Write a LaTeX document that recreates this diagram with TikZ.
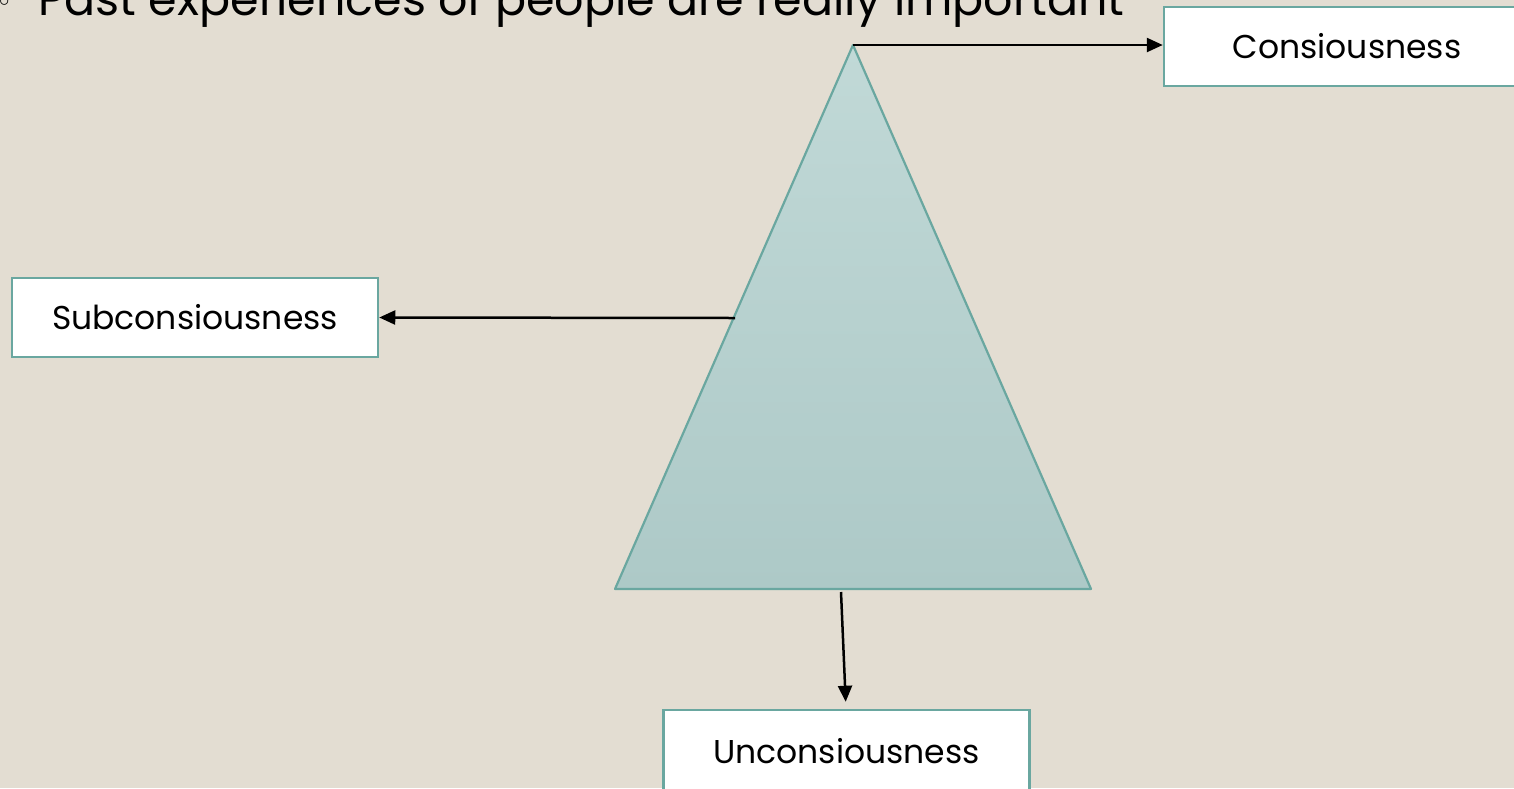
\documentclass[tikz,border=0pt]{standalone}
\usepackage{fontspec}
\setmainfont{Poppins}
\usetikzlibrary{arrows.meta}
\definecolor{bg}{HTML}{E3DDD2}
\definecolor{teal}{HTML}{6AA7A0}
\definecolor{tritop}{HTML}{C1D9D7}
\definecolor{tribot}{HTML}{ADC9C7}
\tikzset{
  label box/.style={draw=teal, line width=2.5pt, fill=white, minimum width=366pt, minimum height=79pt, inner sep=0pt, font=\fontsize{33}{36}\selectfont},
  conn/.style={line width=2.5pt, -{Triangle[length=16pt,width=14pt]}},
}
\begin{document}
\begin{tikzpicture}[x=1pt,y=-1pt]
\useasboundingbox (0,0) rectangle (1514,788);
\clip (0,0) rectangle (1514,788);
\fill[bg] (0,0) rectangle (1514,788);
% title line (clipped at top, as in the reference)
\node[anchor=base west, inner sep=0pt] (bullet) at (-1,6) {\fontsize{22}{22}\selectfont$\circ$};
\node[anchor=base west, inner sep=0pt, font=\fontsize{46}{50}\selectfont] (title) at (38,15) {Past experiences of people are really important};
% triangle
\coordinate (apex) at (853,45);
\coordinate (bl) at (615,589);
\coordinate (br) at (1091,589);
\shade[top color=tritop, bottom color=tribot] (apex) -- (br) -- (bl) -- cycle;
\draw[teal, line width=2.2pt, line join=round] (apex) -- (br) -- (bl) -- cycle;
\coordinate (leftedge) at (735,318);
\coordinate (basept) at (841,592);
% boxes
\node[label box] (cons) at (1347,46.5) {Consiousness};
\node[label box] (sub) at (195,317.5) {Subconsiousness};
\node[label box, minimum height=90pt] (uncons) at (846.5,755) {};
\node[font=\fontsize{33}{36}\selectfont, inner sep=0pt] (unconstext) at (846.5,751) {Unconsiousness};
% connectors
\draw[conn] (apex) -- (cons.west |- apex);
\draw[conn] (leftedge) -- (sub.east);
\draw[conn, shorten >=7pt] (basept) -- (uncons.north -| 846,0);
\end{tikzpicture}
\end{document}
